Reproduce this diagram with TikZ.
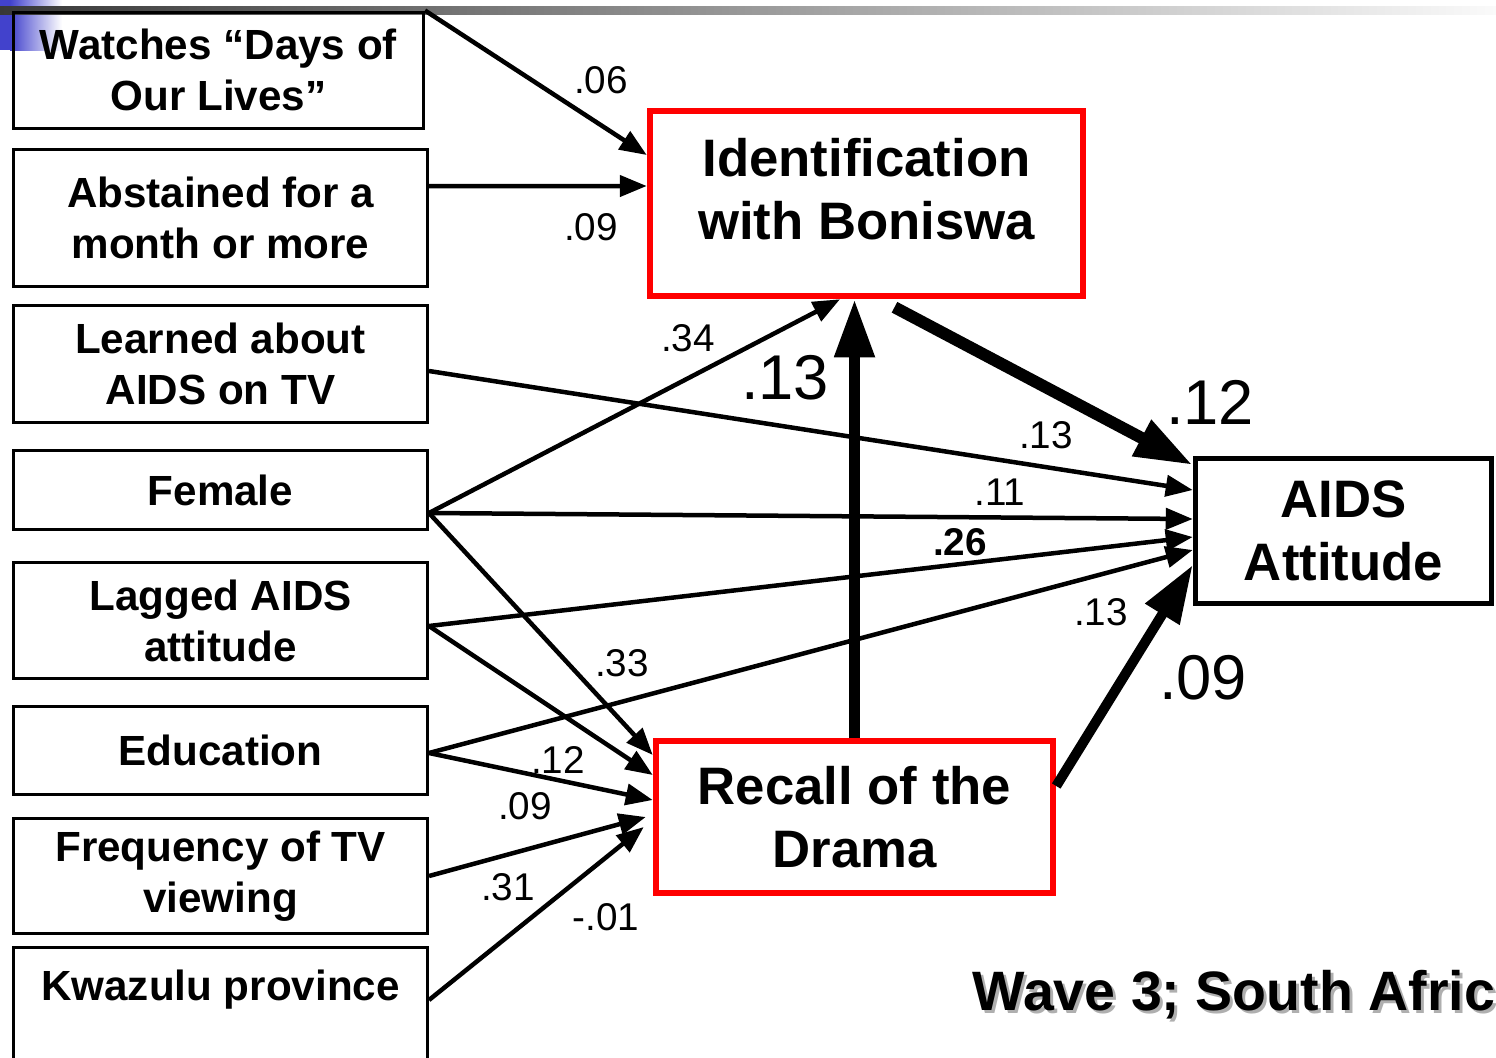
\documentclass[tikz,border=0pt]{standalone}
\usepackage{fontspec}
\setmainfont{Liberation Sans}
\usetikzlibrary{arrows.meta}
\definecolor{slideblue}{RGB}{66,66,204}
\definecolor{bardark}{RGB}{56,56,56}
\definecolor{barmid}{RGB}{190,190,190}
\definecolor{barlight}{RGB}{250,250,250}
\definecolor{shadowgray}{RGB}{175,175,175}
\tikzset{>={Triangle[length=2.7mm,width=2.1mm]}}

\begin{document}
\begin{tikzpicture}[x=0.1mm, y=-0.1mm,
  varbox/.style={draw, line width=0.3mm, align=center, font=\fontsize{12}{14.5}\selectfont\bfseries},
  redbox/.style={draw=red, line width=0.65mm, align=center, font=\fontsize{15}{17.9}\selectfont\bfseries},
  link/.style={->, line width=0.45mm},
  biglink/.style={-{Triangle[length=5.8mm,width=3.8mm]}, line width=1.1mm},
  coef/.style={font=\fontsize{11}{13}\selectfont},
  bigcoef/.style={font=\fontsize{18}{21}\selectfont},
  wavetext/.style={inner sep=0pt, anchor=west, font=\fontsize{15.8}{18}\selectfont\bfseries}]
\useasboundingbox (0,0) rectangle (1496,1058);
\clip (0,0) rectangle (1496,1058);
\fill[slideblue] (0,0) rectangle (10,50);
\shade[left color=slideblue, right color=white] (10,0) rectangle (62,50);
\shade[left color=bardark, middle color=barmid, right color=barlight] (0,6) rectangle (1496,14);
\node[varbox, minimum width=41.0mm, minimum height=11.6mm] (watch) at (218.5,70) {Watches “Days of\\Our Lives”};
\node[varbox, minimum width=41.4mm, minimum height=13.7mm] (abst) at (220.5,218) {Abstained for a\\month or more};
\node[varbox, minimum width=41.4mm, minimum height=11.7mm] (learn) at (220.5,364) {Learned about\\AIDS on TV};
\node[varbox, minimum width=41.4mm, minimum height=7.9mm] (female) at (220.5,490) {Female};
\node[varbox, minimum width=41.4mm, minimum height=11.6mm] (lagged) at (220.5,620.5) {Lagged AIDS\\attitude};
\node[varbox, minimum width=41.4mm, minimum height=8.8mm] (edu) at (220.5,750.5) {Education};
\node[varbox, minimum width=41.4mm, minimum height=11.5mm] (freq) at (220.5,876) {Frequency of TV\\viewing};
\node[varbox, minimum width=41.4mm, text height=3.2mm, text depth=10mm, inner ysep=2.1mm, anchor=north] (kwa) at (220.5,945.5) {Kwazulu province};
\node[redbox, minimum width=43.3mm, minimum height=18.5mm] (ident) at (866.5,203.5) {};
\node[align=center, font=\fontsize{15}{17.9}\selectfont\bfseries] (identtext) at (866.5,189) {Identification\\with Boniswa};
\node[redbox, minimum width=39.7mm, minimum height=15.2mm] (recall) at (854.5,817) {Recall of the\\Drama};
\node[draw, line width=0.55mm, align=center, minimum width=29.6mm, minimum height=14.5mm, font=\fontsize{15}{17.9}\selectfont\bfseries] (aids) at (1343.5,531) {AIDS\\Attitude};
\coordinate (femaleout) at ([yshift=-2.3mm]female.east);
\coordinate (laggedout) at ([yshift=-0.55mm]lagged.east);
\coordinate (eduout) at ([yshift=-0.25mm]edu.east);
\draw[link] (watch.north east) -- ([yshift=4.85mm]ident.west);
\draw[link] ([yshift=3.2mm]abst.east) -- ([yshift=1.75mm]ident.west);
\draw[link] ([yshift=-0.7mm]learn.east) -- ([yshift=4.1mm]aids.west);
\draw[link] (femaleout) -- ([xshift=-2.65mm]ident.south);
\draw[link] (femaleout) -- ([yshift=1.2mm]aids.west);
\draw[link] (femaleout) -- ([yshift=6.2mm]recall.west);
\draw[link] (laggedout) -- ([yshift=-0.6mm]aids.west);
\draw[link] (laggedout) -- ([yshift=4.2mm]recall.west);
\draw[link] (eduout) -- ([yshift=-1.9mm]aids.west);
\draw[link] (eduout) -- ([yshift=1.7mm]recall.west);
\draw[link] (freq.east) -- ([xshift=-0.7mm]recall.west);
\draw[link] (kwa.base east) -- ([xshift=-0.9mm,yshift=-1mm]recall.west);
\draw[biglink] (recall.north) -- (recall.north |- ident.south);
\draw[biglink, line width=1.2mm] ([xshift=2.8mm,yshift=-0.8mm]ident.south) -- ([yshift=6.6mm]aids.west);
\draw[biglink, line width=1mm] ([yshift=3.1mm]recall.east) -- ([yshift=-3.4mm]aids.west);
\node[coef] (c06) at (601,80) {.06};
\node[coef] (c09a) at (591,227) {.09};
\node[coef] (c34) at (688,338) {.34};
\node[coef] (c13a) at (1046,435) {.13};
\node[coef] (c11) at (1000,492) {.11};
\node[coef, font=\fontsize{11}{13}\selectfont\bfseries] (c26) at (960,542) {.26};
\node[coef] (c13b) at (1101,612) {.13};
\node[coef] (c33) at (622,663) {.33};
\node[coef] (c12) at (558,760) {.12};
\node[coef] (c09b) at (525,806) {.09};
\node[coef] (c31) at (508,887) {.31};
\node[coef] (c01) at (606,917) {-.01};
\node[bigcoef] (b13) at (785,378) {.13};
\node[bigcoef] (b12) at (1210,402) {.12};
\node[bigcoef] (b09) at (1203,678) {.09};
\node[wavetext, text=shadowgray] (waveshadow) at (975,998) {Wave 3; South Africa};
\node[wavetext] (wave) at (972,995) {Wave 3; South Africa};
\end{tikzpicture}
\end{document}
